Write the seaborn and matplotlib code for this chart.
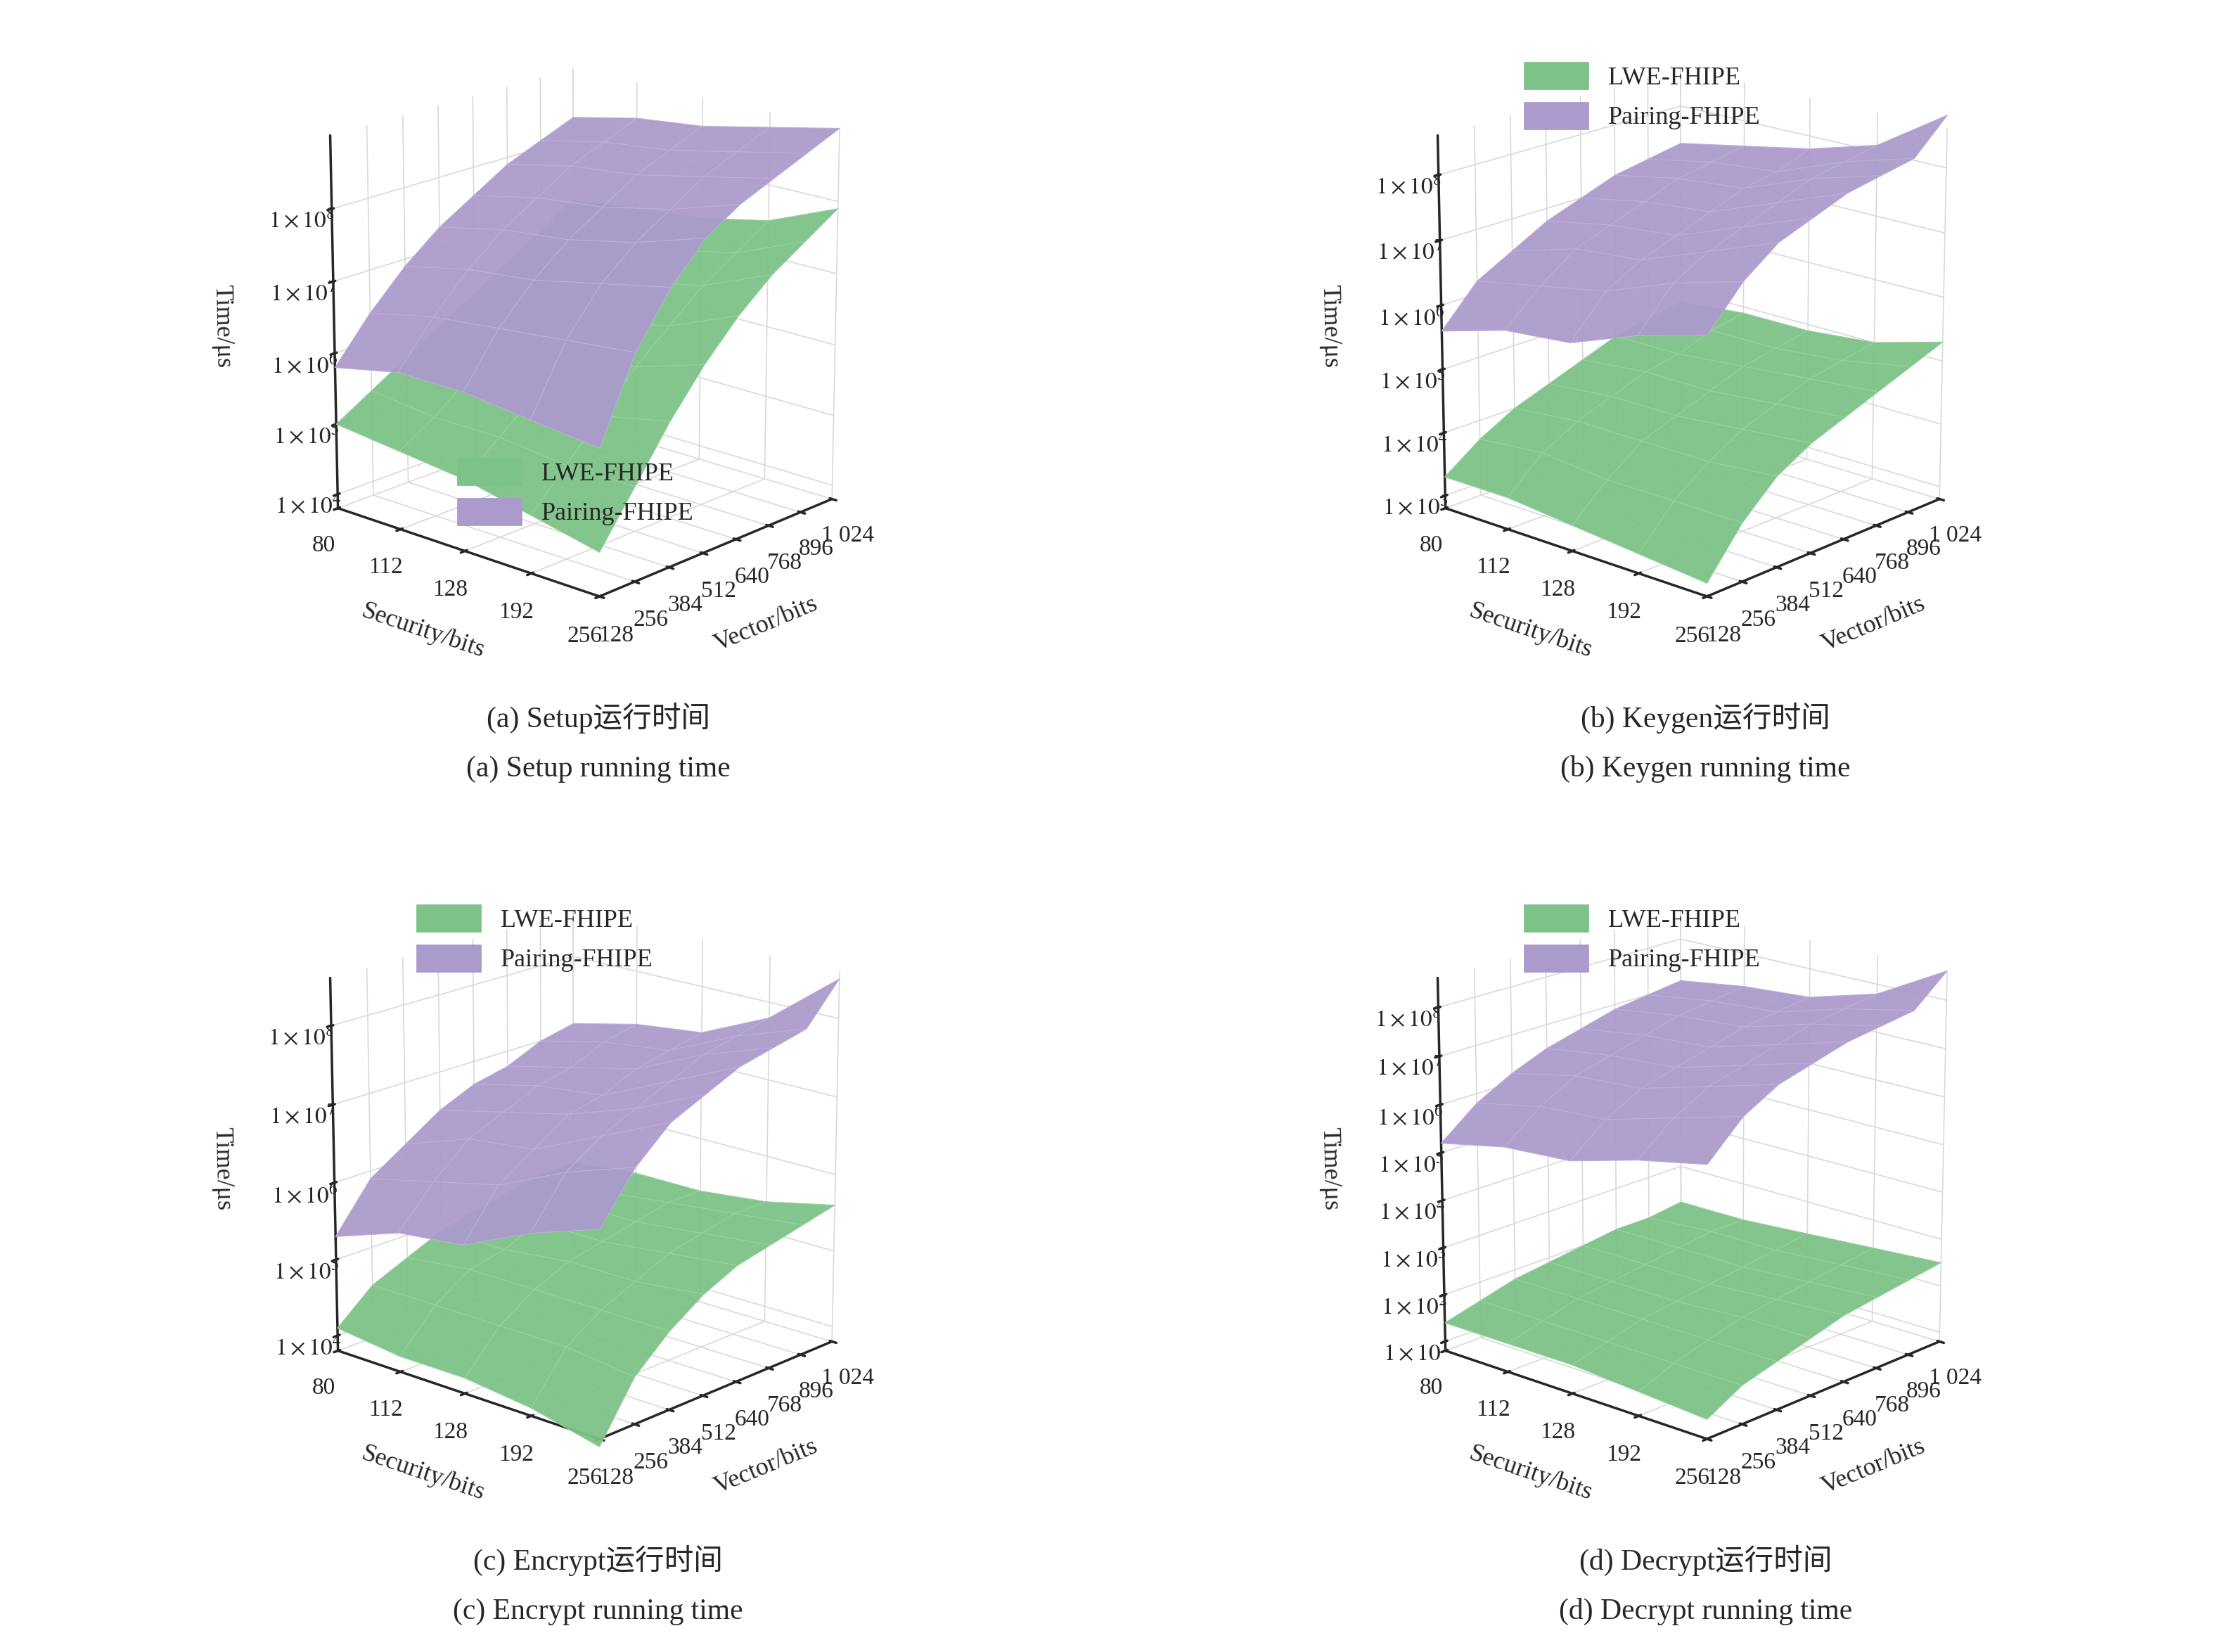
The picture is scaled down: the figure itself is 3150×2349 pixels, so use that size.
import numpy as np
import matplotlib
matplotlib.use("Agg")
import matplotlib.pyplot as plt
import seaborn as sns
from matplotlib.patches import Patch

sns.set_theme(style="white")
plt.rcParams['font.family'] = ['Liberation Serif', 'Noto Sans CJK SC']
plt.rcParams['mathtext.fontset'] = 'stix'

security = ["80", "112", "128", "192", "256"]
vector = ["128", "256", "384", "512", "640", "768", "896", "1 024"]

# log10(time/us), rows = security, cols = vector
setup_lwe = [[5.0, 5.3, 5.6, 5.9, 6.2, 6.5, 6.8, 7.1],
             [4.9, 5.2, 5.6, 5.9, 6.2, 6.6, 6.9, 7.2],
             [4.8, 5.2, 5.6, 6.0, 6.3, 6.7, 7.0, 7.3],
             [4.6, 5.1, 5.6, 6.1, 6.5, 6.9, 7.2, 7.5],
             [4.4, 5.1, 5.8, 6.4, 6.9, 7.3, 7.6, 7.9]]
setup_pair = [[5.8, 6.4, 6.9, 7.3, 7.6, 7.9, 8.1, 8.3],
              [6.0, 6.6, 7.1, 7.5, 7.8, 8.1, 8.3, 8.5],
              [6.0, 6.7, 7.2, 7.6, 7.9, 8.2, 8.4, 8.6],
              [5.9, 6.8, 7.4, 7.8, 8.1, 8.4, 8.6, 8.8],
              [5.8, 6.9, 7.6, 8.1, 8.4, 8.6, 8.8, 9.0]]
keygen_lwe = [[3.3, 3.7, 4.0, 4.2, 4.4, 4.6, 4.7, 4.8],
              [3.3, 3.8, 4.1, 4.3, 4.5, 4.6, 4.8, 4.9],
              [3.2, 3.7, 4.1, 4.3, 4.5, 4.7, 4.8, 4.9],
              [3.1, 3.7, 4.1, 4.4, 4.6, 4.8, 4.9, 5.0],
              [3.0, 3.7, 4.2, 4.5, 4.7, 4.9, 5.1, 5.3]]
keygen_pair = [[5.6, 6.2, 6.5, 6.8, 7.0, 7.2, 7.3, 7.4],
               [5.9, 6.4, 6.8, 7.0, 7.2, 7.4, 7.5, 7.6],
               [6.0, 6.6, 6.9, 7.1, 7.3, 7.5, 7.6, 7.8],
               [6.4, 7.0, 7.3, 7.5, 7.7, 7.9, 8.0, 8.1],
               [6.7, 7.3, 7.7, 7.9, 8.1, 8.2, 8.3, 8.8]]
encrypt_lwe = [[4.1, 4.5, 4.7, 4.9, 5.0, 5.1, 5.2, 5.2],
               [4.0, 4.5, 4.8, 4.9, 5.1, 5.2, 5.2, 5.3],
               [4.0, 4.5, 4.8, 5.0, 5.1, 5.2, 5.3, 5.3],
               [3.9, 4.5, 4.8, 5.0, 5.2, 5.3, 5.4, 5.4],
               [3.7, 4.4, 4.8, 5.1, 5.3, 5.4, 5.5, 5.6]]
encrypt_pair = [[5.3, 5.9, 6.2, 6.5, 6.7, 6.8, 7.0, 7.1],
                [5.6, 6.1, 6.5, 6.7, 6.9, 7.0, 7.2, 7.3],
                [5.7, 6.3, 6.6, 6.9, 7.0, 7.2, 7.3, 7.4],
                [6.1, 6.7, 7.0, 7.2, 7.4, 7.6, 7.7, 7.8],
                [6.4, 7.0, 7.4, 7.6, 7.8, 7.9, 8.0, 8.5]]
decrypt_lwe = [[1.4, 1.6, 1.8, 1.9, 2.0, 2.1, 2.1, 2.2],
               [1.4, 1.6, 1.8, 1.9, 2.0, 2.1, 2.2, 2.2],
               [1.4, 1.6, 1.8, 1.9, 2.0, 2.1, 2.2, 2.3],
               [1.3, 1.6, 1.8, 2.0, 2.1, 2.2, 2.3, 2.4],
               [1.2, 1.6, 1.8, 2.0, 2.2, 2.3, 2.4, 2.5]]
decrypt_pair = [[5.2, 5.8, 6.2, 6.5, 6.7, 6.9, 7.0, 7.1],
                [5.5, 6.1, 6.5, 6.7, 6.9, 7.1, 7.2, 7.3],
                [5.6, 6.2, 6.6, 6.8, 7.0, 7.2, 7.3, 7.4],
                [6.0, 6.6, 7.0, 7.2, 7.4, 7.6, 7.7, 7.8],
                [6.3, 7.0, 7.4, 7.6, 7.8, 7.9, 8.0, 8.6]]

panels = [
    (setup_lwe, setup_pair, (3.8, 9.0), [4, 5, 6, 7, 8], "(a) Setup运行时间", "(a) Setup running time", "bottom"),
    (keygen_lwe, keygen_pair, (2.8, 8.6), [3, 4, 5, 6, 7, 8], "(b) Keygen运行时间", "(b) Keygen running time", "top"),
    (encrypt_lwe, encrypt_pair, (3.8, 8.6), [4, 5, 6, 7, 8], "(c) Encrypt运行时间", "(c) Encrypt running time", "top"),
    (decrypt_lwe, decrypt_pair, (0.8, 8.6), [1, 2, 3, 4, 5, 6, 7, 8], "(d) Decrypt运行时间", "(d) Decrypt running time", "top"),
]

green = "#7dc287"
purple = "#ab9bcc"

fig = plt.figure(figsize=(15.75, 11.745), dpi=200)
positions = [[0.02, 0.58, 0.48, 0.44], [0.52, 0.58, 0.48, 0.44],
             [0.02, 0.07, 0.48, 0.44], [0.52, 0.07, 0.48, 0.44]]

X, Y = np.meshgrid(np.arange(len(security)), np.arange(len(vector)), indexing="ij")

for pos, (lwe, pair, zlim, zt, cap1, cap2, legpos) in zip(positions, panels):
    ax = fig.add_axes(pos, projection="3d")
    ax.plot_surface(X, Y, np.array(lwe), color=green, edgecolor="#95d19e",
                    linewidth=0.4, shade=False, alpha=0.95)
    ax.plot_surface(X, Y, np.array(pair), color=purple, edgecolor="#bcaed8",
                    linewidth=0.4, shade=False, alpha=0.95)
    ax.view_init(elev=18, azim=-48)
    ax.set_zlim(*zlim)
    ax.set_xlim(0, len(security) - 1)
    ax.set_ylim(0, len(vector) - 1)
    ax.set_xticks(range(len(security)))
    ax.set_xticklabels(security, fontsize=12)
    ax.set_yticks(range(len(vector)))
    ax.set_yticklabels(vector, fontsize=12)
    ax.set_zticks(zt)
    ax.set_zticklabels([r"$1\times10^{%d}$" % z for z in zt], fontsize=12)
    ax.zaxis.set_ticks_position('lower')
    ax.zaxis.set_label_position('lower')
    ax.set_xlabel("Security/bits", fontsize=13, labelpad=12)
    ax.set_ylabel("Vector/bits", fontsize=13, labelpad=12)
    ax.set_zlabel("Time/μs", fontsize=13, labelpad=22)
    for axis in (ax.xaxis, ax.yaxis, ax.zaxis):
        axis.set_pane_color((1, 1, 1, 0))
        axis._axinfo["grid"]["color"] = "#d9d9d9"
        axis._axinfo["grid"]["linewidth"] = 0.6
    ax.set_box_aspect((1, 1, 1.1), zoom=0.85)
    handles = [Patch(color=green, label="LWE-FHIPE"), Patch(color=purple, label="Pairing-FHIPE")]
    if legpos == "bottom":
        ax.legend(handles=handles, loc="lower center", bbox_to_anchor=(0.5, 0.2),
                  frameon=False, fontsize=13, handlelength=2.5, handleheight=1.2)
    else:
        ax.legend(handles=handles, loc="upper left", bbox_to_anchor=(0.25, 0.9),
                  frameon=False, fontsize=13, handlelength=2.5, handleheight=1.2)
    cx = pos[0] + 0.25
    fig.text(cx, pos[1] - 0.02, cap1, ha="center", fontsize=15)
    fig.text(cx, pos[1] - 0.05, cap2, ha="center", fontsize=15)

fig.savefig("out.png", dpi=200)
